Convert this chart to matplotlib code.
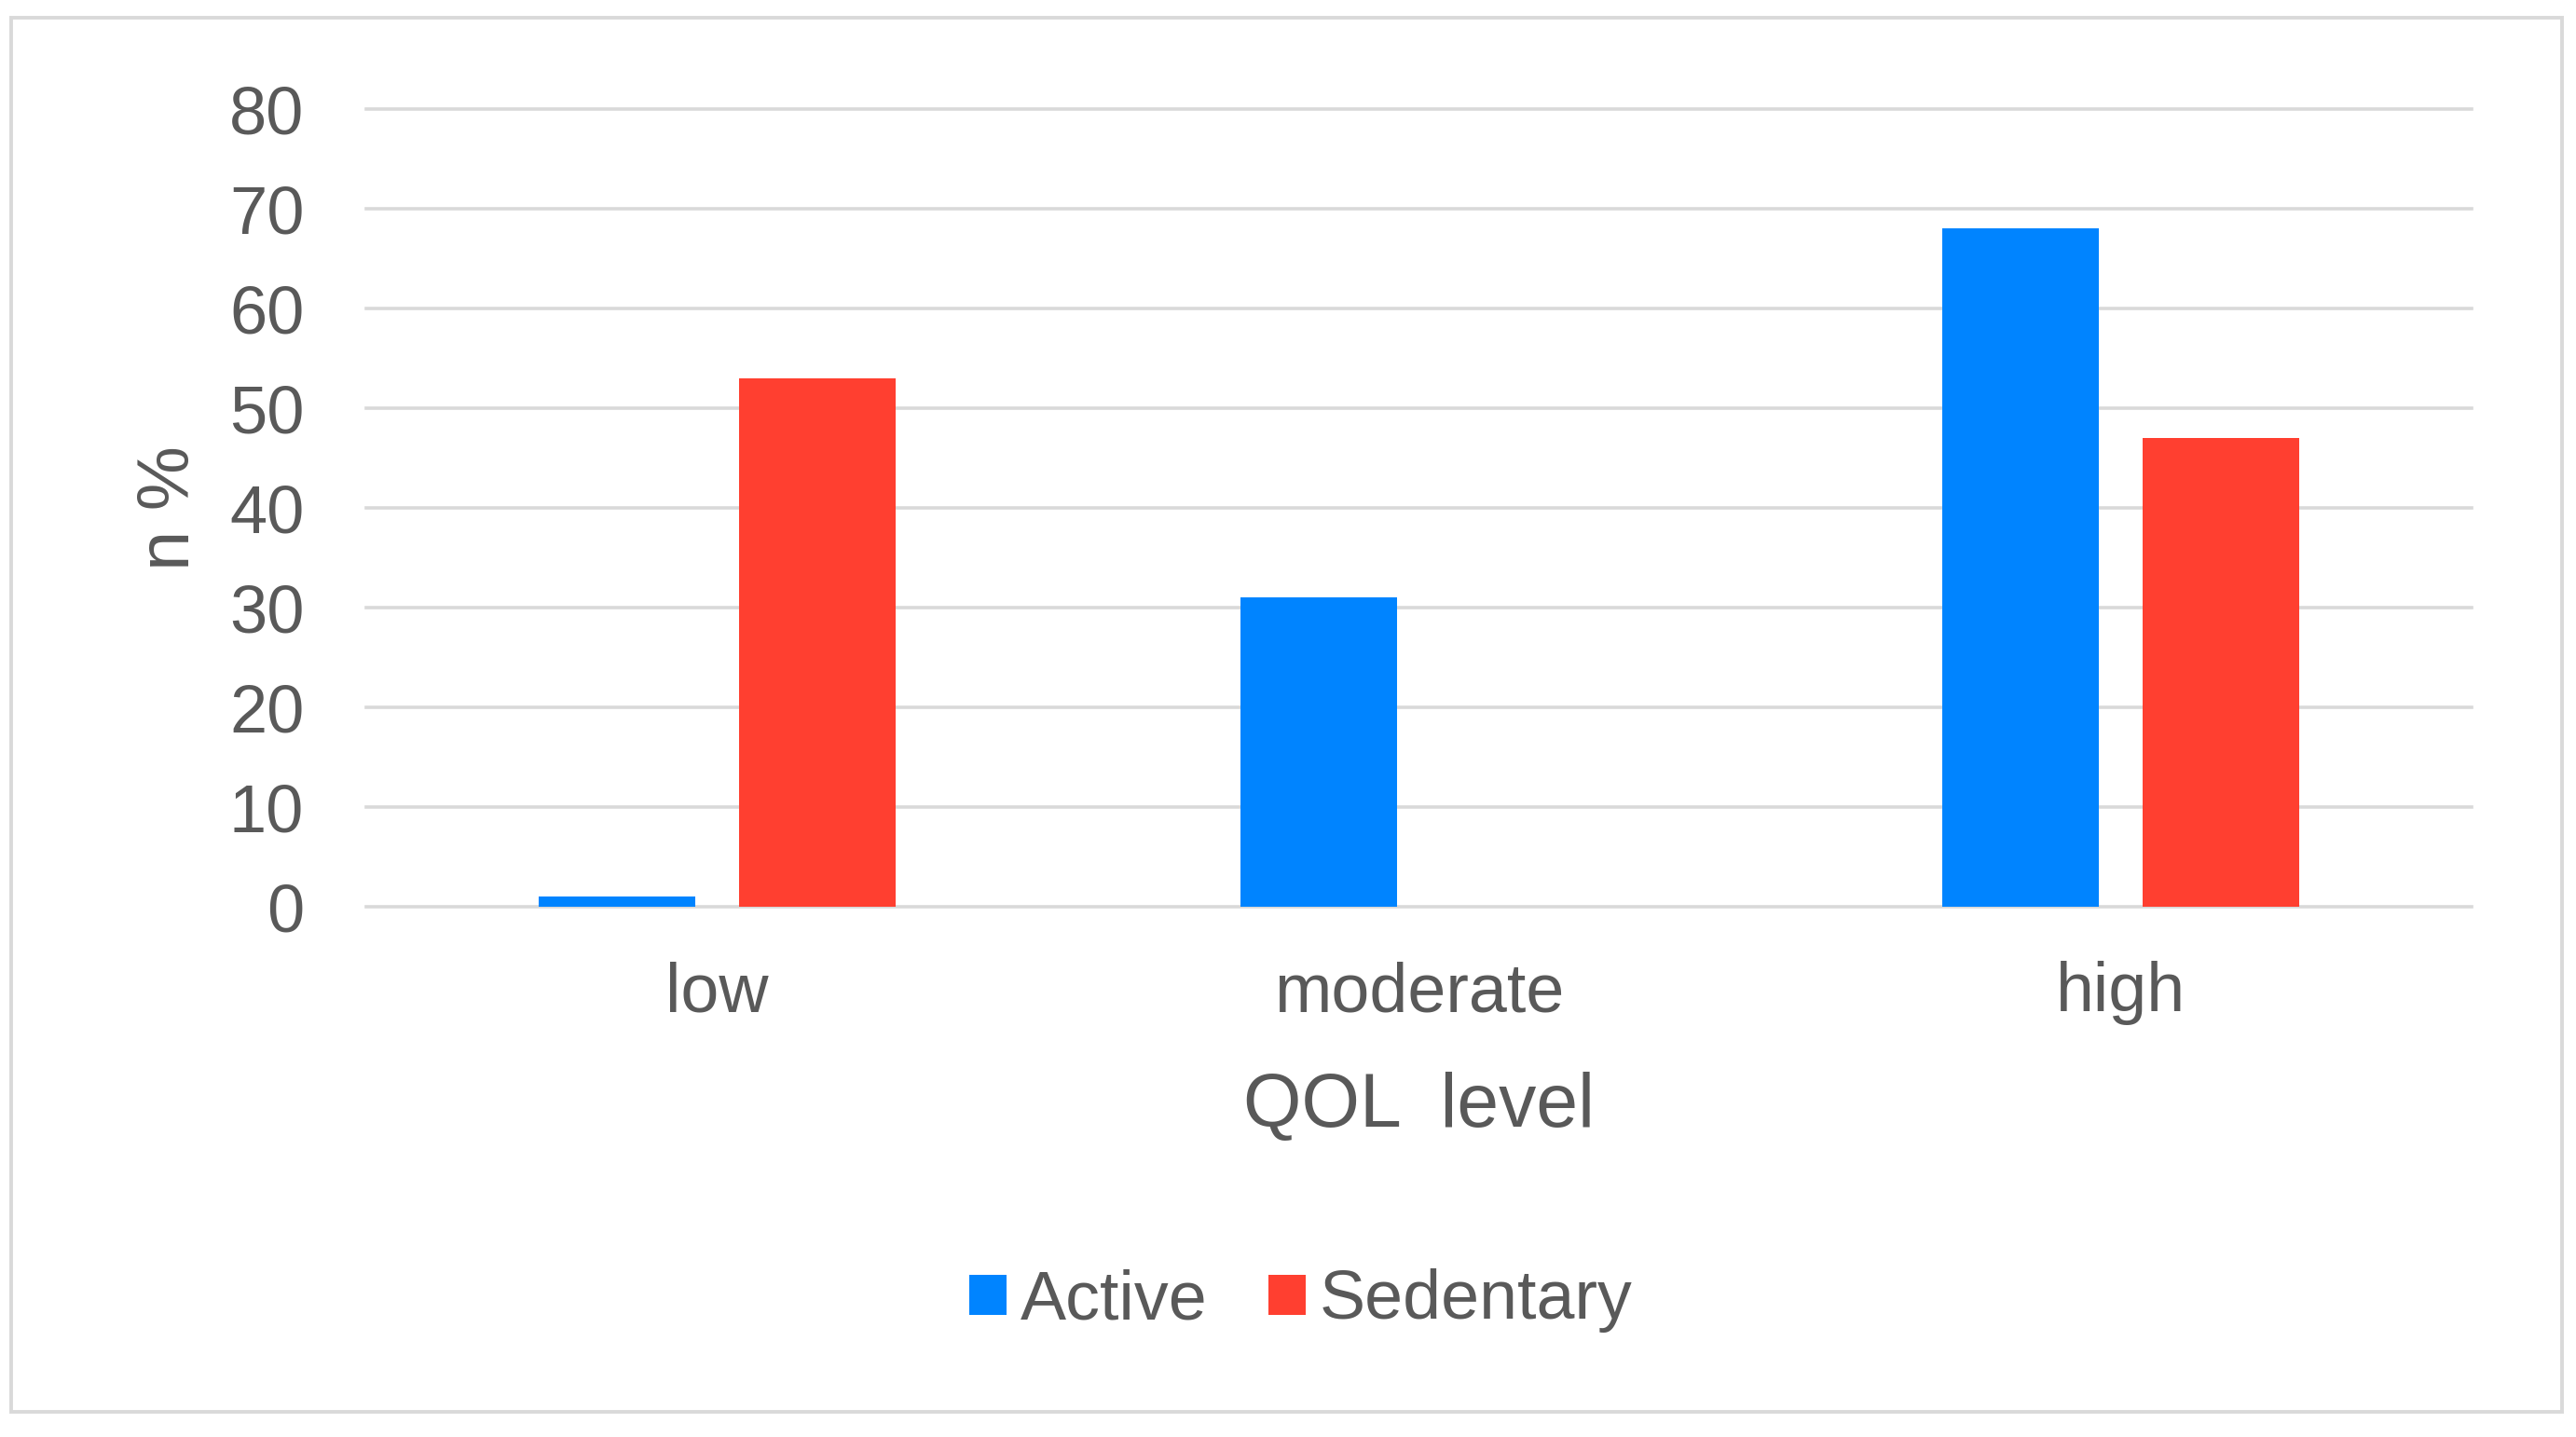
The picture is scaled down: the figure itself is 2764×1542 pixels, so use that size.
import matplotlib
matplotlib.use('Agg')
import matplotlib.pyplot as plt
from matplotlib.patches import Rectangle
import numpy as np

plt.rcParams['font.family'] = ['Liberation Sans', 'DejaVu Sans']

# data
categories = ['low', 'moderate', 'high']
active = [1, 31, 68]
sedentary = [53, 0, 47]
series_names = ['Active', 'Sedentary']
yticks = [0, 10, 20, 30, 40, 50, 60, 70, 80]

BLUE = '#0084FF'
RED = '#FF3F30'
GREY_TXT = '#595959'
GRID = '#D9D9D9'

fig = plt.figure(figsize=(27.64, 15.42), dpi=100)
ax = fig.add_axes([0.1422, 0.369, 0.8173, 0.5551])

x = np.arange(len(categories))
w = 0.223
off = 0.143
ax.bar(x - off, active, w, color=BLUE, label=series_names[0], zorder=3)
ax.bar(x + off, sedentary, w, color=RED, label=series_names[1], zorder=3)

ax.set_xlim(-0.5, len(categories) - 0.5)
ax.set_ylim(0, 80)
ax.set_yticks(yticks)
ax.set_xticks(x)
ax.set_xticklabels(categories)

for s in ax.spines.values():
    s.set_visible(False)
ax.yaxis.grid(True, color=GRID, linewidth=2.6, zorder=0)
ax.set_axisbelow(True)
for gl in ax.yaxis.get_gridlines():
    gl.set_clip_on(False)

ax.tick_params(axis='y', length=0, pad=48, labelsize=52, labelcolor=GREY_TXT)
ax.tick_params(axis='x', length=0, pad=42, labelsize=53, labelcolor=GREY_TXT)

xl = ax.set_xlabel('QOL  level', fontsize=58, color=GREY_TXT)
ax.xaxis.set_label_coords(0.5, -0.2757)
xl.set_verticalalignment('baseline')

yl = ax.set_ylabel('n %', fontsize=56, color=GREY_TXT)
ax.yaxis.set_label_coords(-0.093, 0.5)
yl.set_verticalalignment('center')

leg = fig.legend(loc='center', bbox_to_anchor=(0.505, 1 - 1396 / 1542), ncol=2,
                 frameon=False, fontsize=53, handlelength=0.54, handleheight=0.54,
                 handletextpad=0.2, columnspacing=0.9, borderpad=0)
for t in leg.get_texts():
    t.set_color(GREY_TXT)

# light grey chart-area border
fig.patches.append(Rectangle((12 / 2764, 1 - 1515 / 1542), (2749 - 12) / 2764,
                             (1515 - 19) / 1542, transform=fig.transFigure,
                             fill=False, edgecolor=GRID, linewidth=2.8))

fig.savefig('out.png', dpi=100)
